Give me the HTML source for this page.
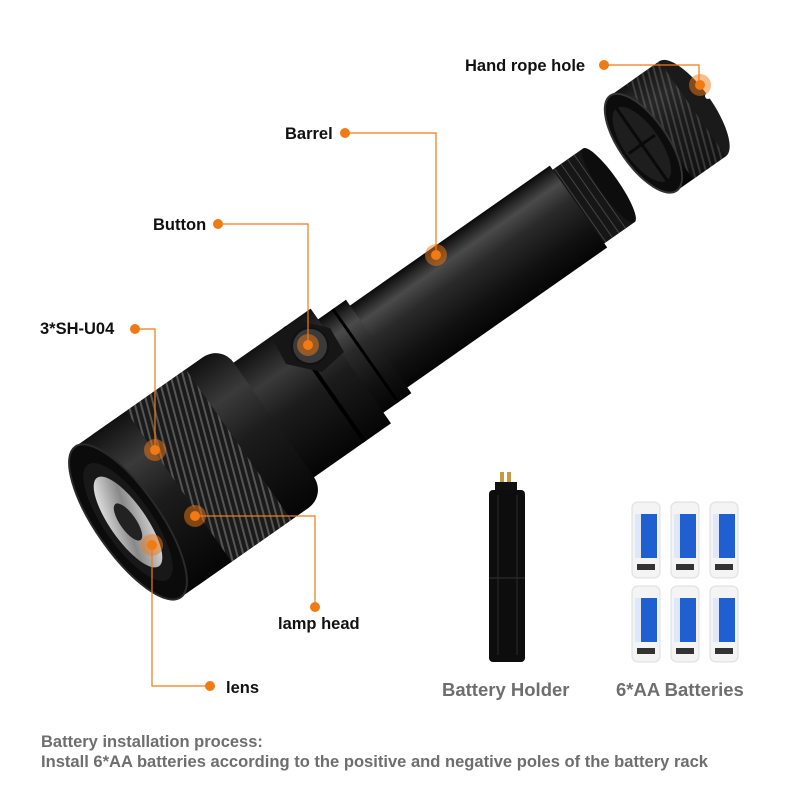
<!DOCTYPE html>
<html><head><meta charset="utf-8"><style>
html,body{margin:0;padding:0;background:#fff;width:800px;height:800px;overflow:hidden}
svg{display:block}
.lb{font-family:"Liberation Sans",sans-serif;font-weight:bold;font-size:16.5px;fill:#111}
.gt{font-family:"Liberation Sans",sans-serif;font-weight:bold;fill:#6e6e6e}
</style></head><body>
<svg width="800" height="800" viewBox="0 0 800 800" xmlns="http://www.w3.org/2000/svg">
<defs>
<linearGradient id="bar" x1="0" y1="0" x2="0" y2="1">
<stop offset="0" stop-color="#0a0a0a"/><stop offset="0.2" stop-color="#4a4a4a"/><stop offset="0.4" stop-color="#2a2a2a"/><stop offset="0.75" stop-color="#111"/><stop offset="1" stop-color="#050505"/>
</linearGradient>
<linearGradient id="head" x1="0" y1="0" x2="0" y2="1">
<stop offset="0" stop-color="#111"/><stop offset="0.25" stop-color="#3a3a3a"/><stop offset="0.5" stop-color="#1c1c1c"/><stop offset="1" stop-color="#050505"/>
</linearGradient>
<pattern id="knurl" width="6" height="6" patternUnits="userSpaceOnUse" patternTransform="rotate(20)">
<rect width="6" height="6" fill="#1a1a1a"/><rect width="2" height="6" fill="#555"/>
</pattern>
<linearGradient id="refl" x1="0" y1="0" x2="1" y2="1">
<stop offset="0" stop-color="#fff"/><stop offset="0.5" stop-color="#888"/><stop offset="1" stop-color="#eee"/>
</linearGradient>
<g id="bt">
<rect x="0" y="0" width="28" height="76" rx="6" fill="#f4f4f4" stroke="#ddd"/>
<rect x="3" y="12" width="22" height="44" fill="#1f5fd0"/>
<rect x="3" y="12" width="6" height="44" fill="#dfe8fb"/>
<rect x="5" y="62" width="18" height="6" fill="#333"/>
</g>
</defs>

<!-- cap -->
<g transform="translate(668,126) rotate(-35)">
<ellipse cx="30" cy="0" rx="20" ry="58" fill="#1a1a1a"/>
<rect x="-30" y="-58" width="60" height="116" fill="url(#head)"/>
<rect x="-10" y="-58" width="40" height="116" fill="url(#knurl)" opacity="0.6"/>
<ellipse cx="-30" cy="0" rx="24" ry="58" fill="#0c0c0c" stroke="#333" stroke-width="2"/>
<ellipse cx="-32" cy="0" rx="18" ry="44" fill="#1e1e1e"/>
<line x1="-32" y1="-44" x2="-32" y2="44" stroke="#0a0a0a" stroke-width="3"/>
<line x1="-48" y1="0" x2="-16" y2="0" stroke="#0a0a0a" stroke-width="3"/>
</g>
<circle cx="708" cy="96" r="3" fill="#fff"/>

<!-- flashlight -->
<g transform="translate(128,522) rotate(-35)">
<rect x="545" y="-45" width="42" height="90" fill="#161616"/>
<g stroke="#444" stroke-width="1">
<line x1="552" y1="-45" x2="552" y2="45"/><line x1="560" y1="-45" x2="560" y2="45"/><line x1="568" y1="-45" x2="568" y2="45"/><line x1="576" y1="-45" x2="576" y2="45"/>
</g>
<ellipse cx="587" cy="0" rx="10" ry="45" fill="#0d0d0d"/>
<rect x="290" y="-50" width="260" height="100" fill="url(#bar)"/>
<rect x="266" y="-57" width="40" height="114" fill="url(#bar)"/>
<line x1="290" y1="-57" x2="290" y2="57" stroke="#000" stroke-width="3"/>
<rect x="160" y="-70" width="112" height="140" fill="url(#head)"/>
<line x1="240" y1="-70" x2="240" y2="70" stroke="#000" stroke-width="4"/>
<rect x="0" y="-92" width="178" height="184" rx="22" fill="url(#head)"/>
<rect x="60" y="-92" width="75" height="184" fill="url(#knurl)"/>
<rect x="0" y="-92" width="62" height="184" fill="url(#head)"/>
<ellipse cx="0" cy="0" rx="32" ry="92" fill="#0b0b0b" stroke="#2a2a2a" stroke-width="2"/>
<ellipse cx="0" cy="0" rx="24" ry="70" fill="#181818"/>
<ellipse cx="0" cy="0" rx="18" ry="54" fill="url(#refl)"/>
<ellipse cx="0" cy="0" rx="8" ry="22" fill="#222"/>
</g>
<polygon points="272,338 296,320 330,328 344,352 322,372 286,364" fill="#161616"/>
<circle cx="310" cy="346" r="18" fill="#3a3a3a" stroke="#111" stroke-width="2"/>

<!-- battery holder -->
<rect x="500" y="472" width="4" height="18" fill="#c89a40"/><rect x="507" y="472" width="4" height="18" fill="#c89a40"/>
<rect x="495" y="482" width="22" height="10" fill="#111"/>
<rect x="489" y="490" width="36" height="172" rx="4" fill="#0d0d0d"/>
<line x1="489" y1="578" x2="525" y2="578" stroke="#333"/>
<line x1="498" y1="495" x2="498" y2="655" stroke="#2a2a2a"/><line x1="517" y1="495" x2="517" y2="655" stroke="#2a2a2a"/>

<!-- batteries -->
<use href="#bt" x="632" y="502"/><use href="#bt" x="671" y="502"/><use href="#bt" x="710" y="502"/>
<use href="#bt" x="632" y="586"/><use href="#bt" x="671" y="586"/><use href="#bt" x="710" y="586"/>

<!-- connectors -->
<g stroke="#f07a14" stroke-width="1.2" fill="none">
<polyline points="604,65 699,65 699,85"/>
<polyline points="345,133 436,133 436,255"/>
<polyline points="218,224 308,224 308,345"/>
<polyline points="135,329 155,329 155,450"/>
<polyline points="195,516 315,516 315,607"/>
<polyline points="152,545 152,686 210,686"/>
</g>
<g fill="#f07a14">
<circle cx="604" cy="65" r="5"/><circle cx="345" cy="133" r="5"/><circle cx="218" cy="224" r="5"/><circle cx="135" cy="329" r="5"/><circle cx="315" cy="607" r="5"/><circle cx="210" cy="686" r="5"/>
<circle cx="700" cy="85" r="11" opacity="0.5"/><circle cx="700" cy="85" r="5"/>
<circle cx="436" cy="255" r="11" opacity="0.5"/><circle cx="436" cy="255" r="5"/>
<circle cx="308" cy="345" r="11" opacity="0.5"/><circle cx="308" cy="345" r="5"/>
<circle cx="155" cy="450" r="11" opacity="0.5"/><circle cx="155" cy="450" r="5"/>
<circle cx="195" cy="516" r="11" opacity="0.5"/><circle cx="195" cy="516" r="5"/>
<circle cx="152" cy="545" r="11" opacity="0.5"/><circle cx="152" cy="545" r="5"/>
</g>

<text class="lb" x="465" y="71">Hand rope hole</text>
<text class="lb" x="285" y="139">Barrel</text>
<text class="lb" x="153" y="230">Button</text>
<text class="lb" x="40" y="334">3*SH-U04</text>
<text class="lb" x="278" y="629">lamp head</text>
<text class="lb" x="226" y="693">lens</text>
<text class="gt" x="442" y="696" font-size="18.5">Battery Holder</text>
<text class="gt" x="616" y="696" font-size="18.5">6*AA Batteries</text>
<text class="gt" x="41" y="747" font-size="16.5">Battery installation process:</text>
<text class="gt" x="41" y="767" font-size="16.5" textLength="667" lengthAdjust="spacingAndGlyphs">Install 6*AA batteries according to the positive and negative poles of the battery rack</text>
</svg>
</body></html>
